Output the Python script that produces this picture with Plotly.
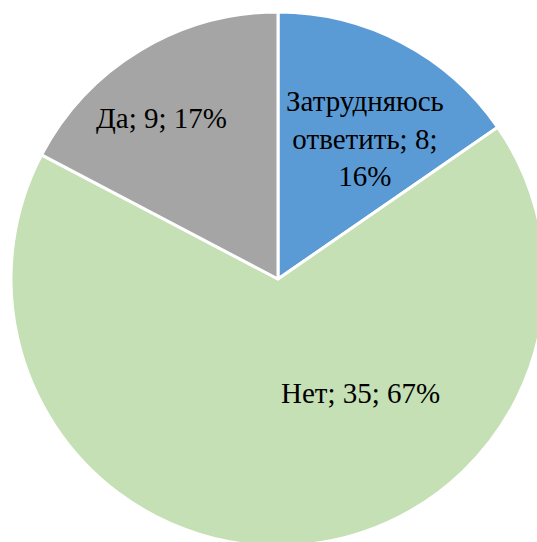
import plotly.graph_objects as go

# Survey answers
labels = ["Затрудняюсь ответить", "Нет", "Да"]
counts = [8, 35, 9]
percents = ["16%", "67%", "17%"]

colors = ["#5B9BD5", "#C5E0B4", "#A5A5A5"]

# Label text: "name; count; percent", wrapped where the slice is narrow
label_text = [
    "Затрудняюсь<br>ответить; {};<br>{}".format(counts[0], percents[0]),
    "{}; {}; {}".format(labels[1], counts[1], percents[1]),
    "{}; {}; {}".format(labels[2], counts[2], percents[2]),
]
# Label anchor points in paper coordinates
label_pos = [(0.663, 0.764), (0.655, 0.2865), (0.281, 0.801)]

SERIF = "Liberation Serif"

fig = go.Figure(
    go.Pie(
        labels=labels,
        values=counts,
        textinfo="none",
        sort=False,
        direction="clockwise",
        rotation=0,
        marker=dict(colors=colors, line=dict(color="white", width=3)),
        hoverinfo="label+value+percent",
        showlegend=False,
    )
)

for txt, (px, py) in zip(label_text, label_pos):
    fig.add_annotation(
        text=txt,
        x=px,
        y=py,
        xref="paper",
        yref="paper",
        xanchor="center",
        yanchor="middle",
        showarrow=False,
        align="center",
        font=dict(family=SERIF, size=29, color="black"),
    )

fig.update_layout(
    width=545,
    height=546,
    margin=dict(l=11, r=0, t=12, b=0, pad=0),
    paper_bgcolor="white",
    plot_bgcolor="white",
)

fig.write_html("out.html")
